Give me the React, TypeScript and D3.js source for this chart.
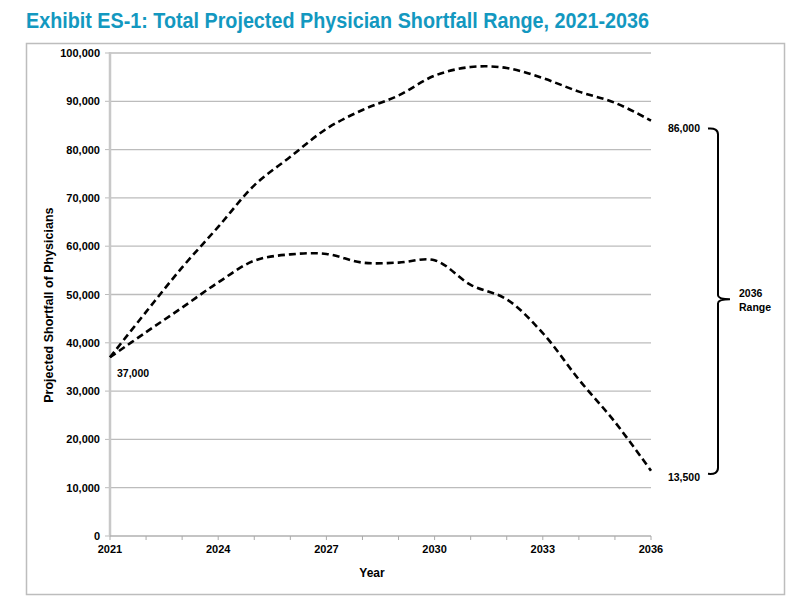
import { useEffect, useRef } from 'react';
import * as d3 from 'd3';

// values
const years = [2021, 2022, 2023, 2024, 2025, 2026, 2027, 2028, 2029, 2030, 2031, 2032, 2033, 2034, 2035, 2036];
const highShortfall = [37000, 46400, 55600, 64000, 72600, 78500, 84300, 88200, 91200, 95300, 97100, 96900, 94800, 92000, 89700, 86000];
const lowShortfall = [37000, 42200, 47300, 52500, 57000, 58300, 58400, 56600, 56600, 57100, 52000, 49000, 42000, 32400, 23600, 13500];
const yTicks = [0, 10000, 20000, 30000, 40000, 50000, 60000, 70000, 80000, 90000, 100000];
const xLabelYears = [2021, 2024, 2027, 2030, 2033, 2036];

const W = 793;
const H = 601;
const FONT = '"Liberation Sans", Arial, sans-serif';

export default function App() {
  const ref = useRef<SVGSVGElement>(null);

  useEffect(() => {
    if (!ref.current) return;
    const svg = d3.select(ref.current);
    svg.selectAll('*').remove();

    const x = d3.scaleLinear().domain([2021, 2036]).range([110, 651]);
    const y = d3.scaleLinear().domain([0, 100000]).range([536, 53]);
    const fmt = d3.format(',');

    // title
    svg.append('text')
      .attr('x', 26).attr('y', 28)
      .attr('font-family', '"Liberation Sans Narrow", "Arial Narrow", ' + FONT)
      .attr('font-weight', 700).attr('font-size', 21.5)
      .attr('fill', '#1398c0')
      .attr('textLength', 623).attr('lengthAdjust', 'spacingAndGlyphs')
      .text('Exhibit ES-1: Total Projected Physician Shortfall Range, 2021-2036');

    // frame
    svg.append('rect')
      .attr('x', 26.5).attr('y', 43.5).attr('width', 758).attr('height', 551)
      .attr('fill', 'none').attr('stroke', '#bdbdbd').attr('stroke-width', 1.5);

    // gridlines
    svg.append('g').selectAll('line')
      .data(yTicks.filter((d) => d > 0))
      .enter().append('line')
      .attr('x1', x(2021)).attr('x2', x(2036))
      .attr('y1', (d) => y(d)).attr('y2', (d) => y(d))
      .attr('stroke', '#bcbcbc').attr('stroke-width', 1.3);

    // y ticks + labels
    const yg = svg.append('g');
    yg.selectAll('line')
      .data(yTicks).enter().append('line')
      .attr('x1', x(2021) - 5).attr('x2', x(2021))
      .attr('y1', (d) => y(d)).attr('y2', (d) => y(d))
      .attr('stroke', '#bbb').attr('stroke-width', 1);
    yg.selectAll('text')
      .data(yTicks).enter().append('text')
      .attr('x', 100).attr('y', (d) => y(d) + 4)
      .attr('text-anchor', 'end')
      .attr('font-family', FONT).attr('font-weight', 700).attr('font-size', 11)
      .attr('fill', '#000')
      .text((d) => fmt(d));

    // axes lines
    svg.append('line')
      .attr('x1', x(2021)).attr('x2', x(2021)).attr('y1', y(100000) - 1).attr('y2', y(0))
      .attr('stroke', '#c8c8c8').attr('stroke-width', 2.5);
    svg.append('line')
      .attr('x1', x(2021)).attr('x2', x(2036)).attr('y1', y(0)).attr('y2', y(0))
      .attr('stroke', '#b0b0b0').attr('stroke-width', 1.5);

    // x ticks + labels
    const xg = svg.append('g');
    xg.selectAll('line')
      .data(years).enter().append('line')
      .attr('x1', (d) => x(d)).attr('x2', (d) => x(d))
      .attr('y1', y(0)).attr('y2', y(0) + 4)
      .attr('stroke', '#aaa').attr('stroke-width', 1);
    xg.selectAll('text')
      .data(xLabelYears).enter().append('text')
      .attr('x', (d) => x(d)).attr('y', y(0) + 17)
      .attr('text-anchor', 'middle')
      .attr('font-family', FONT).attr('font-weight', 700).attr('font-size', 11)
      .text((d) => d);

    // axis titles
    svg.append('text')
      .attr('x', 372).attr('y', 577).attr('text-anchor', 'middle')
      .attr('font-family', FONT).attr('font-weight', 700).attr('font-size', 12)
      .text('Year');
    svg.append('text')
      .attr('transform', `translate(53, ${y(47800)}) rotate(-90)`)
      .attr('text-anchor', 'middle')
      .attr('font-family', FONT).attr('font-weight', 700).attr('font-size', 12.5)
      .text('Projected Shortfall of Physicians');

    // lines
    const line = d3.line<number>()
      .x((_, i) => x(years[i]))
      .y((d) => y(d))
      .curve(d3.curveCatmullRom.alpha(0.5));
    [highShortfall, lowShortfall].forEach((series) => {
      svg.append('path')
        .attr('d', line(series))
        .attr('fill', 'none').attr('stroke', '#000')
        .attr('stroke-width', 2.6).attr('stroke-dasharray', '7,4');
    });

    // annotations
    const ann = (tx: number, ty: number, t: string, anchor = 'start') =>
      svg.append('text')
        .attr('x', tx).attr('y', ty).attr('text-anchor', anchor)
        .attr('font-family', FONT).attr('font-weight', 700).attr('font-size', 10.5)
        .text(t);
    ann(117, y(37000) + 20, fmt(37000));
    ann(700, y(86000) + 11, fmt(highShortfall[highShortfall.length - 1]), 'end');
    ann(700, y(13500) + 10, fmt(lowShortfall[lowShortfall.length - 1]), 'end');

    // brace
    const top = y(86000) + 8;
    const bot = y(13500) + 3;
    const mid = (top + bot) / 2 - 2;
    const bx = 718;
    svg.append('path')
      .attr('d', `M${bx - 10},${top} Q${bx},${top - 1} ${bx},${top + 6} L${bx},${mid - 4} Q${bx},${mid} ${bx + 12},${mid} Q${bx},${mid} ${bx},${mid + 4} L${bx},${bot - 6} Q${bx},${bot + 1} ${bx - 10},${bot}`)
      .attr('fill', 'none').attr('stroke', '#000').attr('stroke-width', 2);
    ann(739, mid - 2, '2036');
    ann(739, mid + 12, 'Range');
  }, []);

  return (
    <svg
      ref={ref}
      width={W}
      height={H}
      style={{ position: 'absolute', left: 0, top: 0, background: '#fff' }}
    />
  );
}
